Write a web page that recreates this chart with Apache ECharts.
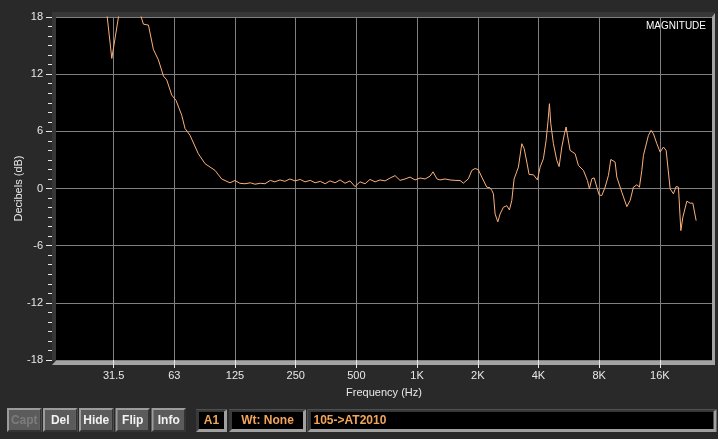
<!DOCTYPE html>
<html><head><meta charset="utf-8">
<script src="https://cdn.jsdelivr.net/npm/echarts@6/dist/echarts.min.js"></script>
<style>html,body{margin:0;padding:0;background:#292929;}#c{width:718px;height:439px;}</style>
</head><body><div id="c"></div><script>
// ---- data ----
const freqHz = [20,28.0,30.6,34.8,40,43.9,46.5,49.2,52.1,55.2,57.3,60.7,63.7,68.0,70.6,74.7,82.2,88.8,99.5,107.3,118,125,
132,140,149,157,167,176,187,197,209,221,234,248,263,278,295,312,331,350,370,392,415,439,465,492,521,552,584,619,655,694,735,778,823,872,923,977,
1035,1096,1160,1200,1256,1300,1377,1458,1544,1634,1697,1797,1869,1940,2014,2094,2217,2303,2348,2391,2438,2514,2582,2680,2787,2871,2950,
3029,3182,3308,3396,3502,3595,3776,3953,4077,4233,4366,4467,4534,4607,4746,4934,5065,5224,5382,5487,5569,5743,6081,6314,6686,6999,7161,
7360,7556,7793,7999,8250,8567,8896,9143,9603,9792,10367,10977,11398,11836,12305,12676,13028,13269,14050,14491,14876,15464,16059,16677,17200,
18003,18694,19281,19795,20345,20814,21788,22624,23333,24231];
const levelDb = [24,21,13.65,21,20,17.25,17.15,14.6,13.5,11.8,11.4,9.8,9.25,7.7,6.3,5.6,3.65,2.6,1.9,1.0,0.6,0.84,
0.55,0.5,0.6,0.45,0.55,0.5,0.85,0.7,0.9,0.75,1.0,0.8,0.95,0.7,0.85,0.6,0.75,0.5,0.8,0.6,0.9,0.55,0.8,0.2,0.7,0.5,0.95,0.7,0.9,0.8,1.1,1.35,0.85,1.0,1.2,0.9,
1.1,1.0,1.3,1.75,1.0,0.9,1.0,0.9,0.85,0.84,0.56,1.02,1.9,2.1,1.97,1.2,0.14,0.07,-0.2,-0.56,-2.67,-3.5,-2.67,-1.97,-1.8,-2.25,-1.26,
1.0,2.25,4.7,4.2,2.77,1.47,1.44,0.9,2.25,3.12,5.05,7.16,8.9,6.8,4.7,2.95,2.3,4.35,5.75,6.46,5.6,4.0,3.65,2.42,1.9,0.84,-0.03,
1.02,1.12,0.14,-0.67,-0.74,0.14,1.37,3.05,2.77,1.2,-0.39,-1.9,-1.26,0.14,0.39,0.14,1.9,3.47,5.58,6.1,5.75,4.7,3.82,4.35,4.0,
-0.03,-0.56,0.21,0.14,-4.42,-3.02,-1.33,-1.54,-1.54,-3.37];
const octaveTicks = [-5,-4,-3,-2,-1,0,1,2,3,4]; // octaves relative to 1 kHz
const octaveLabels = ['31.5','63','125','250','500','1K','2K','4K','8K','16K'];
const buttonLabels = ['Capt','Del','Hide','Flip','Info'];
const boxLabels = ['A1','Wt: None','105->AT2010'];

const seriesData = freqHz.map((f,i)=>[Math.log2(f/1000), levelDb[i]]);
const FONT = '"Liberation Sans", Arial, sans-serif';
const txt = '#e8e8e8';

const graphics = [];
// plot frame (3D inset)
graphics.push({type:'rect', z:-10, shape:{x:52,y:12,width:662,height:5}, style:{fill:'#373737'}});
graphics.push({type:'rect', z:50, shape:{x:52,y:12,width:4,height:349}, style:{fill:'#373737'}});
graphics.push({type:'polygon', z:-10, shape:{points:[[712,17],[715,13],[715,365],[712,365]]}, style:{fill:'#a3a3a3'}});
graphics.push({type:'polygon', z:-10, shape:{points:[[56,360.5],[715,360.5],[715,365],[52,365]]}, style:{fill:'#a3a3a3'}});
graphics.push({type:'text', x:706, y:26, style:{text:'MAGNITUDE', fill:'#ffffff', font:'10px '+FONT, align:'right', verticalAlign:'middle'}});

// buttons
const btnX = [7,43,79,115.5,151.5], btnW = 34.5, btnY = 408, btnH = 24;
buttonLabels.forEach((t,i)=>{
  const x = btnX[i], y = btnY, w = btnW, h = btnH;
  graphics.push({type:'rect', shape:{x,y,width:w,height:h}, style:{fill:'#9c9c9c'}});
  graphics.push({type:'polygon', shape:{points:[[x+w,y],[x+w,y+h],[x,y+h],[x+2,y+h-2],[x+w-2,y+h-2],[x+w-2,y+2]]}, style:{fill:'#333333'}});
  graphics.push({type:'rect', shape:{x:x+2,y:y+2,width:w-4,height:h-4}, style:{fill:'#5b5b5b'}});
  graphics.push({type:'text', x:x+w/2, y:y+h/2+0.5, style:{text:t, fill: i===0?'#7c7c7c':'#f2f2f2', font:'bold 12px '+FONT, align:'center', verticalAlign:'middle'}});
});
// info boxes
const boxes = [[196,31,'center'],[229,77,'center'],[307.5,409,'left']];
boxLabels.forEach((t,i)=>{
  const [x,w,al] = boxes[i], y = 409.5, h = 22.5;
  graphics.push({type:'rect', shape:{x,y,width:w,height:h}, style:{fill:'#a0a0a0'}});
  graphics.push({type:'polygon', shape:{points:[[x,y],[x+w,y],[x+w-3,y+2],[x+3,y+2],[x+3,y+h-3],[x,y+h]]}, style:{fill:'#3a3a3a'}});
  graphics.push({type:'rect', shape:{x:x+3,y:y+2,width:w-6,height:h-5}, style:{fill:'#000000'}});
  graphics.push({type:'text', x: al==='center'? x+w/2 : x+6, y:y+h/2, style:{text:t, fill:'#f2a45a', font:'bold 12px '+FONT, align:al, verticalAlign:'middle'}});
});

const chart = echarts.init(document.getElementById('c'), null, {renderer:'canvas'});
chart.setOption({
  backgroundColor:'#292929',
  animation:false,
  grid:{left:56, right:6, top:17, bottom:79, show:true, backgroundColor:'#000000', borderWidth:0,
    containLabel:false, outerBoundsMode:'none'},
  xAxis:{
    type:'value', min:-5.95, max:4.86,
    axisLine:{show:false, onZero:false},
    axisTick:{show:true, length:8, customValues:octaveTicks, lineStyle:{color:txt}},
    axisLabel:{customValues:octaveTicks, color:txt, fontSize:11, fontFamily:FONT, margin:10,
      formatter:v=>octaveLabels[octaveTicks.indexOf(Math.round(v))] || ''},
    splitLine:{show:true, lineStyle:{color:'#808080', width:1}},
    name:'Frequency (Hz)', nameLocation:'middle', nameGap:27, nameMoveOverlap:false,
    nameTextStyle:{color:txt, fontSize:11, fontFamily:FONT}
  },
  yAxis:{
    type:'value', min:-18, max:18, interval:6,
    axisLine:{show:false, onZero:false},
    axisTick:{show:true, length:10, lineStyle:{color:txt}},
    minorTick:{show:true, splitNumber:6, length:8, lineStyle:{color:txt}},
    axisLabel:{color:txt, fontSize:11, fontFamily:FONT, margin:13},
    splitLine:{show:true, lineStyle:{color:'#808080', width:1}},
    name:'Decibels (dB)', nameLocation:'middle', nameGap:32, nameRotate:90, nameMoveOverlap:false,
    nameTextStyle:{color:txt, fontSize:11, fontFamily:FONT}
  },
  series:[{type:'line', data:seriesData, showSymbol:false, clip:true,
    lineStyle:{color:'#fbb07a', width:1}, z:3}],
  graphic:graphics
});
</script></body></html>
